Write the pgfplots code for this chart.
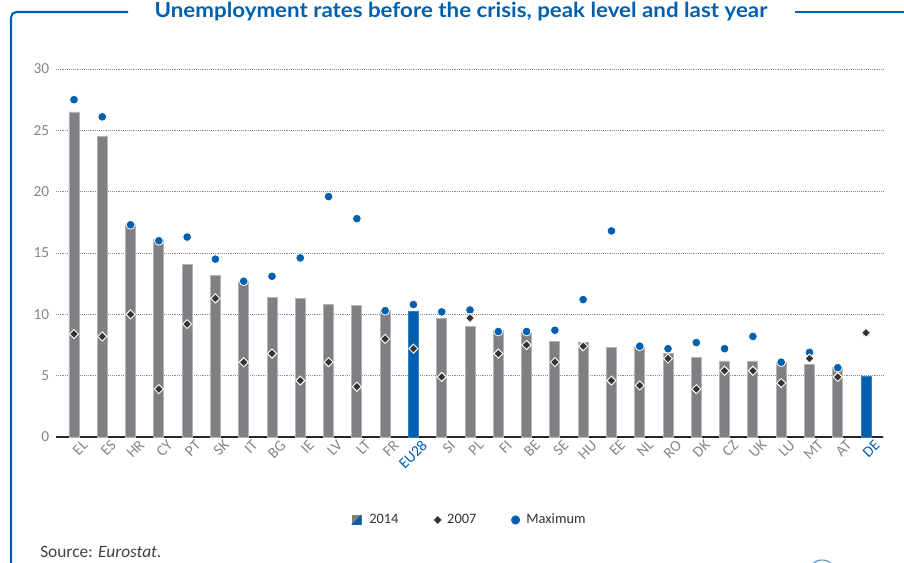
\documentclass[border=0pt]{standalone}
\usepackage{pgfplots}
\pgfplotsset{compat=1.18}
\usepackage{pgfplotstable}
\usepackage{fontspec}
\setmainfont{Carlito}
\newfontfamily\titlefont{Lato}
\definecolor{eublue}{HTML}{0060AE}
\definecolor{bargray}{HTML}{7F8084}
\definecolor{baredge}{HTML}{B5B5B8}
\definecolor{tickgray}{HTML}{858585}
\definecolor{diam}{HTML}{333333}
\definecolor{srcgray}{HTML}{404040}

\pgfplotstableread{
x y14
0 26.5
1 24.5
2 17.3
3 16.1
4 14.1
5 13.2
6 12.7
7 11.4
8 11.3
9 10.8
10 10.7
11 10.3
13 9.7
14 9.0
15 8.7
16 8.5
17 7.8
18 7.7
19 7.3
20 7.3
21 6.8
22 6.5
23 6.2
24 6.2
25 6.1
26 5.9
27 5.7
}\graybars

\pgfplotstableread{
x y14
12 10.2
28 4.9
}\bluebars

\pgfplotstableread{
x y07
0 8.4
1 8.2
2 10.0
3 3.9
4 9.2
5 11.3
6 6.1
7 6.8
8 4.6
9 6.1
10 4.1
11 8.0
12 7.2
13 4.9
14 9.7
15 6.8
16 7.5
17 6.1
18 7.4
19 4.6
20 4.2
21 6.4
22 3.9
23 5.4
24 5.4
25 4.4
26 6.4
27 4.9
28 8.5
}\seven

\pgfplotstableread{
x ymax
0 27.5
1 26.1
2 17.3
3 16.0
4 16.3
5 14.5
6 12.7
7 13.1
8 14.6
9 19.6
10 17.8
11 10.3
12 10.8
13 10.2
14 10.35
15 8.6
16 8.6
17 8.7
18 11.2
19 16.8
20 7.4
21 7.2
22 7.7
23 7.2
24 8.2
25 6.1
26 6.9
27 5.65
28 8.5
}\maxi

\begin{document}
\begin{tikzpicture}[x=0.75pt,y=0.75pt]
\useasboundingbox (0,0) rectangle (904,562);
% frame
\draw[eublue, line width=1.6pt, rounded corners=4pt] (128,550) -- (11,550) -- (11,-8);
\draw[eublue, line width=1.6pt] (795,550) -- (910,550);
\node[text=eublue, font=\titlefont\bfseries\fontsize{15.5pt}{17pt}\selectfont, anchor=base] at (461,544) {\scalebox{1.08}[1]{Unemployment rates before the crisis, peak level and last year}};
% source
\node[text=srcgray, font=\fontsize{13pt}{15pt}\selectfont, anchor=base west, inner sep=0pt] at (40,5) {Source: \textit{Eurostat}.};
% page circle
\begin{scope}
\clip (780,0) rectangle (860,22);
\draw[eublue!70, line width=0.8pt] (822,-12) circle[radius=14];
\end{scope}

\begin{axis}[
  at={(42pt,93.75pt)}, anchor=south west,
  scale only axis, width=620.25pt, height=276pt,
  xmin=-0.636, xmax=28.6, ymin=0, ymax=30,
  axis lines*=left,
  y axis line style={draw=none},
  x axis line style={draw=black!85, line width=1.1pt},
  major tick length=0pt,
  ytick={0,5,10,15,20,25,30},
  ymajorgrids,
  grid style={densely dotted, black!45, line width=0.5pt},
  xtick={0,...,28},
  xticklabels={EL,ES,HR,CY,PT,SK,IT,BG,IE,LV,LT,FR,{\color{eublue}EU28},SI,PL,FI,BE,SE,HU,EE,NL,RO,DK,CZ,UK,LU,MT,AT,{\color{eublue}DE}},
  xticklabel style={rotate=45, anchor=east, font=\fontsize{11.5pt}{13pt}\selectfont, text=tickgray, inner sep=1pt, yshift=-9pt, xshift=4pt},
  yticklabel style={font=\fontsize{11.5pt}{13pt}\selectfont, text=tickgray, inner sep=2pt, xshift=-3pt},
  /pgf/number format/assume math mode=true,
  clip=false,
  legend columns=3,
  legend style={at={(0.5006,-0.2255)}, anchor=center, draw=none, fill=none,
    font=\fontsize{10.8pt}{13pt}\selectfont, text=black!80,
    /tikz/every even column/.append style={column sep=24pt}},
  legend cell align=left,
]
\addlegendimage{legend image code/.code={
  \path[draw=none,fill=none] (0pt,0pt) rectangle (11pt,0.1pt);
  \fill[bargray] (0pt,-3.4pt) rectangle (6.8pt,3.4pt);
  \fill[eublue] (6.8pt,3.4pt) -- (6.8pt,-3.4pt) -- (0pt,-3.4pt) -- cycle;}}
\addlegendentry{2014}
\addlegendimage{legend image code/.code={
  \path[draw=none,fill=none] (0pt,0pt) rectangle (8.5pt,0.1pt);
  \fill[diam] (3.4pt,-2.6pt) -- (6.0pt,0pt) -- (3.4pt,2.6pt) -- (0.8pt,0pt) -- cycle;}}
\addlegendentry{2007}
\addlegendimage{legend image code/.code={
  \path[draw=none,fill=none] (0pt,0pt) rectangle (9.5pt,0.1pt);
  \fill[eublue] (3.4pt,0pt) circle[radius=3.2pt];}}
\addlegendentry{Maximum}

\addplot[ybar, bar width=7.5pt, bar shift=0pt, fill=bargray, draw=baredge, line width=0.6pt, forget plot] table[x=x,y=y14] {\graybars};
\addplot[ybar, bar width=7.5pt, bar shift=0pt, fill=eublue, draw=eublue!80, line width=0.6pt, forget plot] table[x=x,y=y14] {\bluebars};
\addplot[only marks, mark=*, mark size=3.3pt, mark options={fill=eublue, draw=white, line width=0.6pt}, forget plot] table[x=x,y=ymax] {\maxi};
\addplot[only marks, mark=square*, mark size=2.4pt, mark options={fill=diam, draw=white, line width=0.7pt, rotate=45}, forget plot] table[x=x,y=y07] {\seven};
\end{axis}
\end{tikzpicture}
\end{document}
